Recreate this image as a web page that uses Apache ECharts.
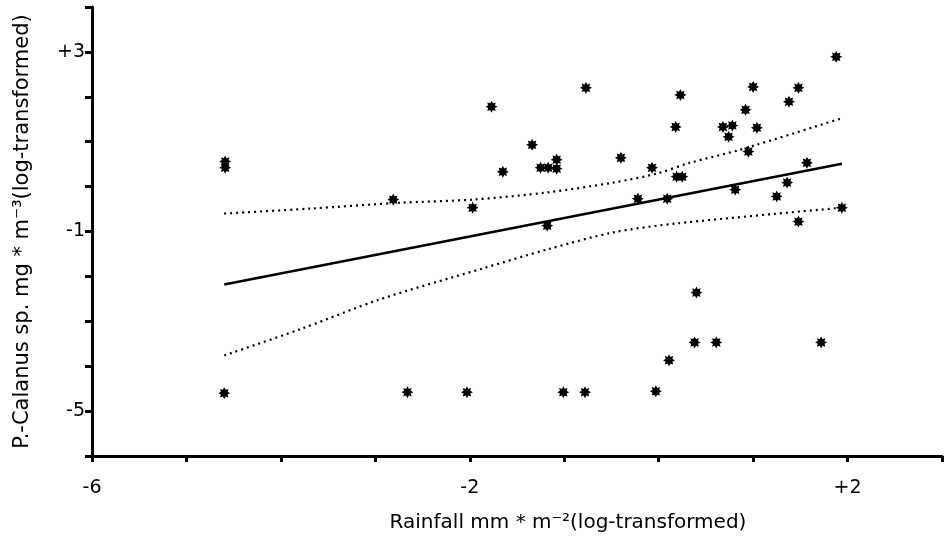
<!DOCTYPE html>
<html>
<head>
<meta charset="utf-8">
<script src="https://cdn.jsdelivr.net/npm/echarts@6/dist/echarts.min.js"></script>
<style>html,body{margin:0;padding:0;background:#fff}#c{width:945px;height:538px}</style>
</head>
<body>
<div id="c"></div>
<script>
// Observed points (rainfall, P.-Calanus), log-transformed
var xVals = [-4.59,-4.59,-4.60,-2.81,-2.66,-2.03,-1.97,-1.77,-1.65,-1.34,-1.25,-1.17,-1.18,-1.08,-1.08,-1.01,-0.78,-0.77,-0.40,-0.22,-0.07,-0.03,0.09,0.11,0.18,0.19,0.25,0.23,0.38,0.40,0.61,0.68,0.78,0.74,0.81,0.92,0.95,1.00,1.04,1.25,1.36,1.38,1.48,1.48,1.57,1.72,1.88,1.94];
var yVals = [0.56,0.42,-4.60,-0.29,-4.58,-4.58,-0.47,1.78,0.33,0.93,0.42,0.42,-0.87,0.60,0.40,-4.58,-4.58,2.20,0.64,-0.27,0.42,-4.56,-0.27,-3.87,1.33,0.22,0.22,2.04,-3.47,-2.36,-3.47,1.33,1.36,1.11,-0.07,1.71,0.78,2.22,1.31,-0.22,0.09,1.89,2.20,-0.78,0.53,-3.47,2.89,-0.47];
// Regression line
var fitX = [-4.60, 1.94];
var fitY = [-2.18, 0.51];
// Confidence bands
var upperX = [-4.60,-3.69,-2.74,-1.97,-1.18,-0.48,-0.02,0.33,0.86,1.92];
var upperY = [-0.60,-0.49,-0.36,-0.29,-0.13,0.09,0.29,0.53,0.82,1.51];
var lowerX = [-4.60,-3.80,-2.95,-1.89,-1.18,-0.48,0.19,1.94];
var lowerY = [-3.76,-3.18,-2.51,-1.84,-1.40,-1.02,-0.82,-0.47];
// Tick labels
var xTickLabels = {'-6':'-6','-2':'-2','2':'+2'};
var yTickLabels = {'3':'+3','-1':'-1','-5':'-5'};

function zip(a,b){return a.map(function(v,i){return [v,b[i]];});}

var star = 'path://M20 10 L15.54 12.30 L17.07 17.07 L12.30 15.54 L10 20 L7.70 15.54 L2.93 17.07 L4.46 12.30 L0 10 L4.46 7.70 L2.93 2.93 L7.70 4.46 L10 0 L12.30 4.46 L17.07 2.93 L15.54 7.70 Z';
var font = '"DejaVu Sans", Arial, Helvetica, sans-serif';

var chart = echarts.init(document.getElementById('c'), null, {renderer:'canvas'});
chart.setOption({
  animation:false,
  backgroundColor:'#fff',
  grid:{left:92,right:3,top:7,bottom:81,containLabel:false},
  xAxis:{
    type:'value',min:-6,max:3,interval:1,
    name:'Rainfall mm * m\u207B\u00B2(log-transformed)',
    nameLocation:'middle',nameGap:57,
    nameTextStyle:{color:'#000',fontSize:20,fontFamily:font,padding:[0,0,0,102]},
    axisLine:{show:true,onZero:false,lineStyle:{color:'#000',width:3}},
    axisTick:{show:true,inside:false,length:6,lineStyle:{color:'#000',width:3}},
    axisLabel:{color:'#000',fontSize:19,fontFamily:font,margin:23,
      formatter:function(v){var k=String(Math.round(v));return xTickLabels[k]||'';}},
    splitLine:{show:false}
  },
  yAxis:{
    type:'value',min:-6,max:4,interval:1,
    name:'P.-Calanus sp. mg * m\u207B\u00B3(log-transformed)',
    nameLocation:'middle',nameGap:59,
    nameTextStyle:{color:'#000',fontSize:21,fontFamily:font},
    axisLine:{show:true,onZero:false,lineStyle:{color:'#000',width:3}},
    axisTick:{show:true,inside:false,length:7,lineStyle:{color:'#000',width:3}},
    axisLabel:{color:'#000',fontSize:19,fontFamily:font,margin:7,
      formatter:function(v){var k=String(Math.round(v));return yTickLabels[k]||'';}},
    splitLine:{show:false}
  },
  series:[
    {type:'scatter',data:zip(xVals,yVals),symbol:star,symbolSize:12,
      itemStyle:{color:'#000',opacity:1},z:5},
    {type:'line',data:zip(fitX,fitY),showSymbol:false,symbol:'none',
      lineStyle:{color:'#000',width:2.5},z:4},
    {type:'line',data:zip(upperX,upperY),showSymbol:false,symbol:'none',smooth:0.3,
      lineStyle:{color:'#000',width:2.2,type:[2,4]},z:3},
    {type:'line',data:zip(lowerX,lowerY),showSymbol:false,symbol:'none',smooth:0.3,
      lineStyle:{color:'#000',width:2.2,type:[2,4]},z:3}
  ]
});
</script>
</body>
</html>
